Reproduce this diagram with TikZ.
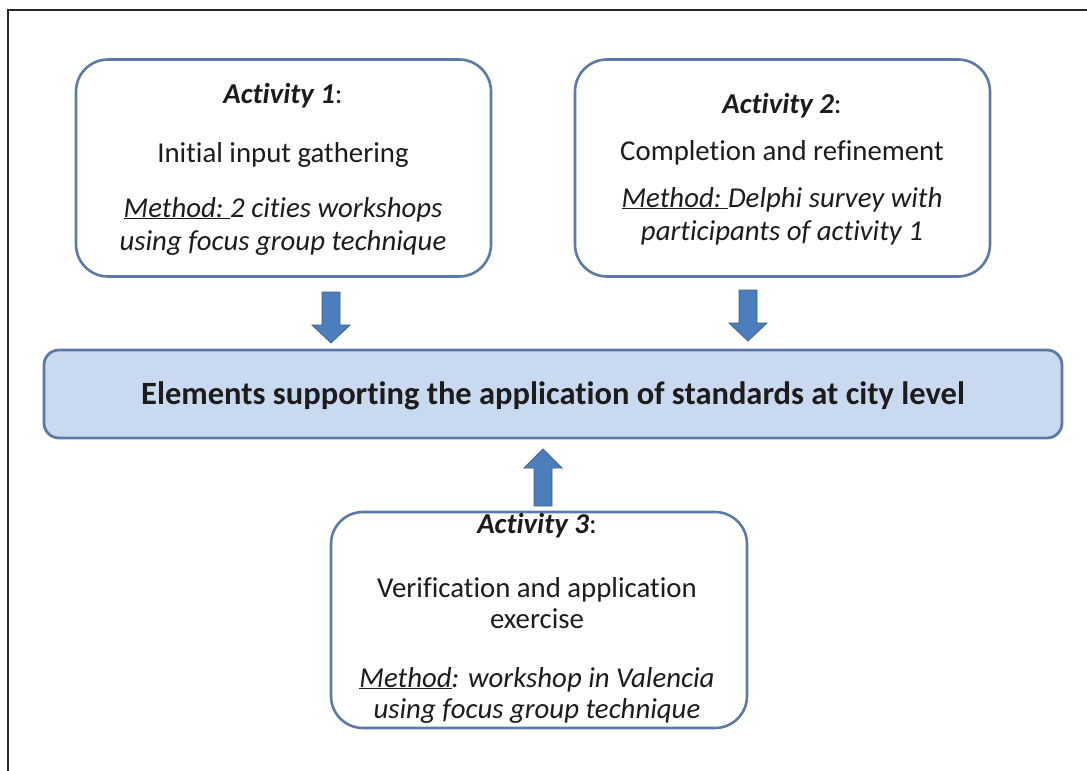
\documentclass[tikz,border=0pt]{standalone}
\usepackage{fontspec}
\setmainfont{Carlito}[Ligatures=NoCommon]
\definecolor{boxline}{HTML}{5B7BA6}
\definecolor{mainfill}{HTML}{C9DAF0}
\definecolor{arrowfill}{HTML}{4B7EBB}
\definecolor{arrowline}{HTML}{3A6494}
\definecolor{ink}{HTML}{1C1C1C}
\newcommand{\actfont}{\fontsize{28.8}{33}\selectfont}
\begin{document}
\begin{tikzpicture}[x=1pt,y=-1pt,
  actbox/.style={draw=boxline, line width=2.6pt, rounded corners=32pt, fill=white,
    inner sep=0pt},
  mainbox/.style={draw=boxline, line width=2.8pt, rounded corners=15pt, fill=mainfill,
    inner sep=0pt},
  txt/.style={anchor=base, inner sep=0pt, text=ink, font=\actfont},
  blockarrow/.style={draw=arrowline, line width=0.8pt, fill=arrowfill, line join=miter},
]
\useasboundingbox (0,0) rectangle (1087,771);

% outer frame
\draw[line width=1.6pt, black!85] (8,771) -- (8,10) -- (1087,10);

% activity boxes and the central result box
\node[actbox, minimum width=415pt, minimum height=217pt] (act1) at (283.5,168) {};
\node[actbox, minimum width=415pt, minimum height=217pt] (act2) at (782.5,168) {};
\node[mainbox, minimum width=1018pt, minimum height=88pt] (elem) at (553,394) {};
\node[actbox, minimum width=416pt, minimum height=216pt] (act3) at (539,620) {};

% activity 1
\node[txt] (a1t) at (283,103) {\textbf{\textit{Activity 1}}:};
\node[txt] (a1n) at (283,162) {Initial input gathering};
\node[txt] (a1m) at (283,217) {\textit{\underline{Method:\ }2 cities workshops}};
\node[txt] (a1u) at (283,250) {\textit{using focus group technique}};

% activity 2
\node[txt] (a2t) at (782,113) {\textbf{\textit{Activity 2}}:};
\node[txt] (a2n) at (782,160) {Completion and refinement};
\node[txt] (a2m) at (782,207) {\textit{\underline{Method:\ }Delphi survey with}};
\node[txt] (a2u) at (782,240) {\textit{participants of activity 1}};

% central result
\node[txt, font=\fontsize{32.5}{36}\selectfont\bfseries] (elt) at (553,404)
  {Elements supporting the application of standards at city level};

% activity 3
\node[txt] (a3t) at (537,533) {\textbf{\textit{Activity 3}}:};
\node[txt] (a3n) at (537,597) {Verification and application};
\node[txt] (a3e) at (537,628) {exercise};
\node[txt] (a3m) at (537,687) {\textit{\underline{Method}: workshop in Valencia}};
\node[txt] (a3u) at (537,718) {\textit{using focus group technique}};

% block arrows feeding the result box
\coordinate (arr1) at (331,292);
\coordinate (arr2) at (748,290);
\coordinate (arr3) at (543,506);
\draw[blockarrow] (arr1) ++(-9,0) -- ++(18,0) -- ++(0,33) -- ++(10,0) -- ++(-19,18)
  -- ++(-19,-18) -- ++(10,0) -- cycle;
\draw[blockarrow] (arr2) ++(-9,0) -- ++(18,0) -- ++(0,33) -- ++(10,0) -- ++(-19,18)
  -- ++(-19,-18) -- ++(10,0) -- cycle;
\draw[blockarrow] (arr3) ++(-9,0) -- ++(18,0) -- ++(0,-38) -- ++(10,0) -- ++(-19,-19)
  -- ++(-19,19) -- ++(10,0) -- cycle;
\end{tikzpicture}
\end{document}
